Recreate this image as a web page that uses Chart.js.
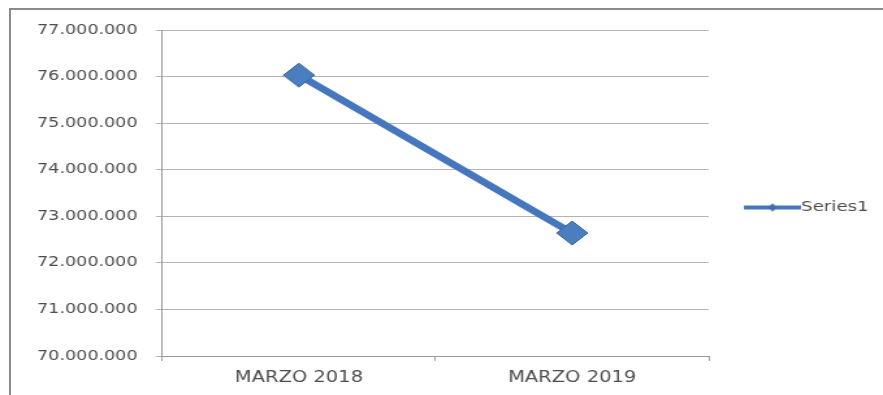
<!DOCTYPE html>
<html>
<head>
<meta charset="utf-8">
<script src="https://cdn.jsdelivr.net/npm/chart.js@4"></script>
<style>
  html, body { margin: 0; padding: 0; background: #fff; overflow: hidden; }
  /* the source picture is stretched sideways, so the chart is drawn narrower and scaled */
  #wrap {
    position: absolute; left: 0; top: 0;
    width: 679px; height: 395px;
    transform: scaleX(1.3004); transform-origin: 0 0;
  }
  #frame {
    position: absolute; left: 9px; top: 8px; width: 900px; height: 400px;
    border-left: 2px solid #8a8a8a; border-top: 2px solid #8a8a8a;
    pointer-events: none;
  }
</style>
</head>
<body>
<div id="wrap"><canvas id="lineChart"></canvas></div>
<div id="frame"></div>
<script>
const categories = ['MARZO 2018', 'MARZO 2019'];
const seriesName = 'Series1';
const seriesValues = [76030000, 72640000];
const yMin = 70000000;
const yMax = 77000000;
const yStep = 1000000;

const lineColor = '#4677be';
const textColor = '#4d4d4d';

// 77000000 -> 77.000.000
function fmt(v) {
  return String(v).replace(/\B(?=(\d{3})+(?!\d))/g, '.');
}

// legend glyph: line with a small diamond in the middle
// (left part left empty so the glyph sits further from the plot)
function legendGlyph() {
  const c = document.createElement('canvas');
  c.width = 68;
  c.height = 12;
  const g = c.getContext('2d');
  g.strokeStyle = lineColor;
  g.lineWidth = 4;
  g.beginPath();
  g.moveTo(24, 6);
  g.lineTo(68, 6);
  g.stroke();
  g.fillStyle = '#3f6fb0';
  g.beginPath();
  g.moveTo(42, 6);
  g.lineTo(46, 2);
  g.lineTo(50, 6);
  g.lineTo(46, 10);
  g.closePath();
  g.fill();
  return c;
}

const ctx = document.getElementById('lineChart');

const data = {
  labels: categories,
  datasets: [
    {
      label: seriesName,
      data: seriesValues,
      borderColor: lineColor,
      backgroundColor: '#4a7ebf',
      borderWidth: 6.5,
      pointStyle: 'rectRot',
      pointRadius: 12,
      pointBorderColor: '#3a66a3',
      pointBorderWidth: 1,
      pointBackgroundColor: '#4a7ebf',
      tension: 0,
    },
  ],
};

const config = {
  type: 'line',
  data: data,
  options: {
    responsive: true,
    maintainAspectRatio: false,
    animation: false,
    layout: {
      padding: { left: 14.5, top: 30, right: 1, bottom: 10 },
    },
    plugins: {
      tooltip: { enabled: false },
      legend: {
        position: 'right',
        labels: {
          usePointStyle: true,
          pointStyle: legendGlyph(),
          pointStyleWidth: 54,
          color: textColor,
          font: { family: 'DejaVu Sans', size: 14 },
        },
      },
    },
    scales: {
      x: {
        offset: true,
        grid: {
          offset: true,
          drawOnChartArea: false,
          tickLength: 5,
          color: '#a0a0a0',
        },
        border: { color: '#9a9a9a' },
        ticks: {
          padding: 8,
          color: textColor,
          font: { family: 'DejaVu Sans', size: 15 },
        },
        // let the labels hang into the bottom padding
        afterFit: (scale) => {
          scale.height -= 10;
        },
      },
      y: {
        min: yMin,
        max: yMax,
        grid: { color: '#b4b4b4', tickLength: 5 },
        border: { color: '#9a9a9a' },
        ticks: {
          stepSize: yStep,
          padding: 14,
          color: textColor,
          font: { family: 'DejaVu Sans', size: 13.5 },
          callback: (v) => fmt(v),
        },
      },
    },
  },
};

const myChart = new Chart(ctx, config);
</script>
</body>
</html>
